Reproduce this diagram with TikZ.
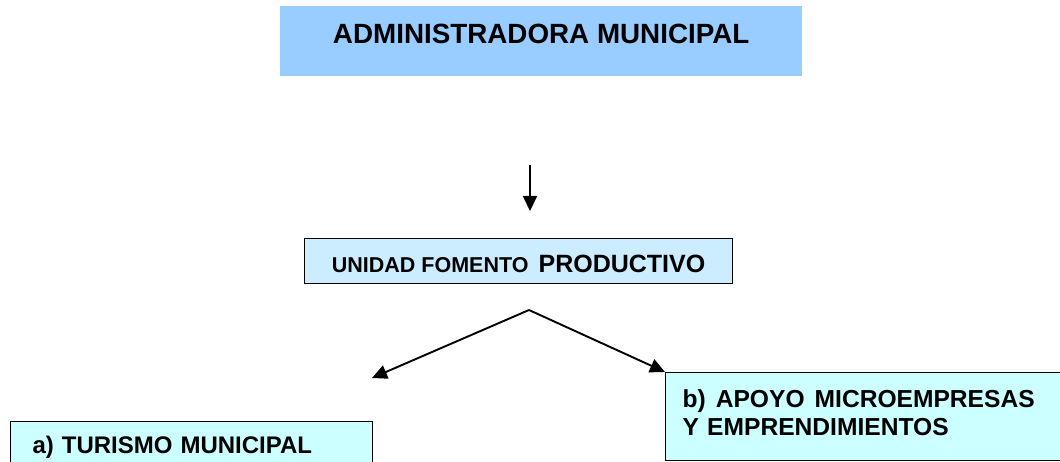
\documentclass[tikz,border=0pt]{standalone}
\usepackage{fontspec}
\setmainfont{Liberation Sans}
\usetikzlibrary{arrows.meta}
\definecolor{cabeza}{HTML}{99CCFF}
\definecolor{unidad}{HTML}{CCECFF}
\definecolor{area}{HTML}{CCFFFF}

\begin{document}
\begin{tikzpicture}
[x=1pt,y=1pt,
	caja/.style={rectangle,inner sep=0pt,anchor=north west,font=\bfseries},
	marco/.style={caja,draw,line width=1.2pt},
	flecha/.style={line width=1.9pt,-{Triangle[length=15pt,width=14pt]}}]
\clip (0,0) rectangle (1060,-462);
\fill[white] (0,0) rectangle (1060,-462);

\node[caja,fill=cabeza,minimum width=522pt,text height=37pt,text depth=33pt,
	font=\bfseries\fontsize{27.8}{30}\selectfont] (admin) at (280,-6) {ADMINISTRADORA MUNICIPAL};
\node[marco,fill=unidad,minimum width=428pt,text height=33.5pt,text depth=11.5pt] (fomento) at (304,-238)
	{{\fontsize{21.5}{24}\selectfont UNIDAD FOMENTO}\hspace{10pt}{\fontsize{25}{28}\selectfont PRODUCTIVO}};
\node[marco,fill=area,text width=318pt,inner xsep=22pt,align=left,text height=32pt,text depth=25pt,
	font=\bfseries\fontsize{24}{28}\selectfont] (turismo) at (10,-421) {a) TURISMO MUNICIPAL};
\node[marco,fill=area,text width=400pt,inner xsep=17pt,align=left,text height=35pt,text depth=53pt,
	font=\bfseries\fontsize{24.6}{28}\selectfont] (apoyo) at (665,-372)
	{b)\hspace{10pt}APOYO\hspace{10pt}MICROEMPRESAS\\Y EMPRENDIMIENTOS};

\coordinate (bajada) at (530,-165);
\coordinate (llegada) at (530,-211);
\coordinate (cruce) at (529,-310);
\coordinate (destino) at (372,-378);
\draw[flecha] (bajada) -- (llegada);
\draw[flecha] (cruce) -- (destino);
\draw[flecha] (cruce) -- (apoyo.north west);
\end{tikzpicture}
\end{document}
